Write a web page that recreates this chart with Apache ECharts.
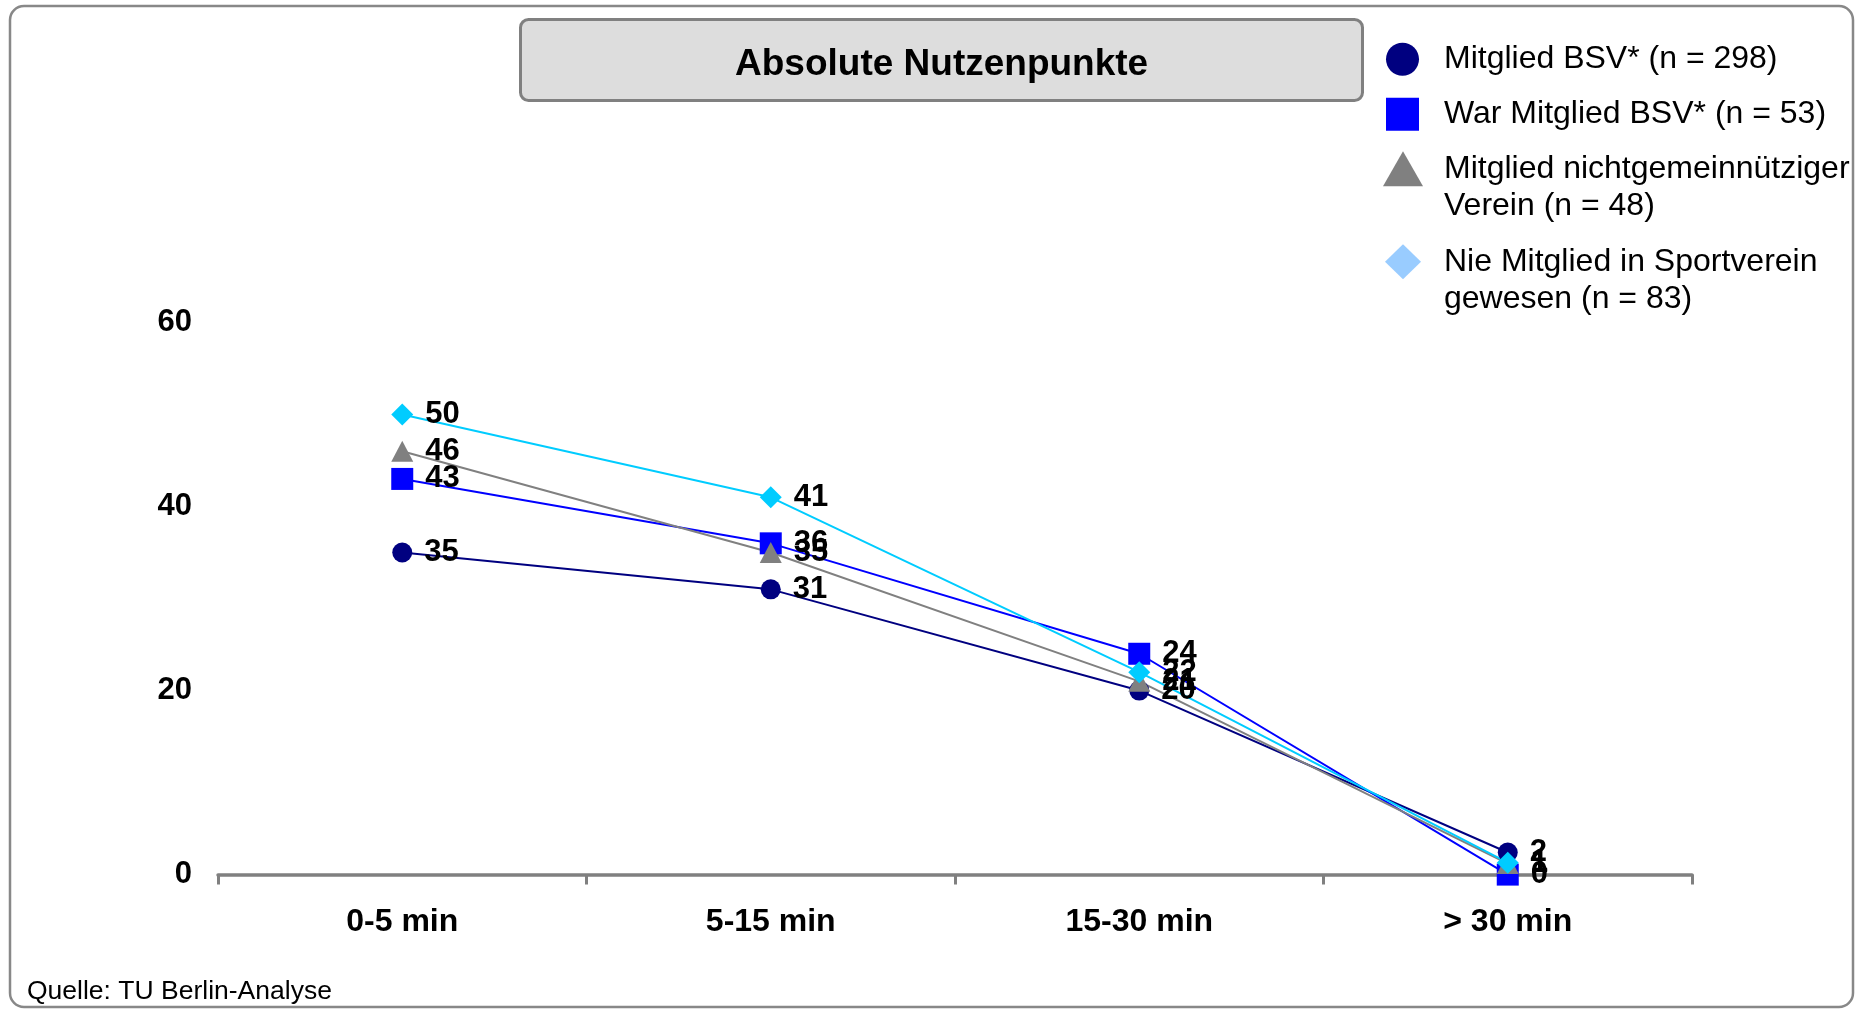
<!DOCTYPE html>
<html>
<head>
<meta charset="utf-8">
<script src="https://cdn.jsdelivr.net/npm/echarts@6/dist/echarts.min.js"></script>
<style>
html,body{margin:0;padding:0;background:#fff;}
#c{width:1858px;height:1009px;}
</style>
</head>
<body>
<div id="c"></div>
<script>
// ---- data ----
const categories = ['0-5 min', '5-15 min', '15-30 min', '> 30 min'];
const seriesNames = [
  'Mitglied BSV* (n = 298)',
  'War Mitglied BSV* (n = 53)',
  'Mitglied nichtgemeinnütziger\nVerein (n = 48)',
  'Nie Mitglied in Sportverein\ngewesen (n = 83)'
];
const bsvMembers = [35, 31, 20, 2.4];
const formerBsvMembers = [43, 36, 24, 0];
const nonProfitMembers = [46, 35, 21, 1.2];
const neverMembers = [50, 41, 22, 1.3];
const yTicks = [0, 20, 40, 60];
const titleText = 'Absolute Nutzenpunkte';
const sourceText = 'Quelle: TU Berlin-Analyse';

// ---- styling ----
const FONT = '"Liberation Sans", Arial, Helvetica, sans-serif';
const C_NAVY = '#000080', C_BLUE = '#0000FF', C_GREY = '#808080', C_CYAN = '#00CCFF', C_LIGHT = '#99CCFF';

function makeSeries(name, data, symbol, size, color) {
  return {
    name: name,
    type: 'line',
    data: data,
    symbol: symbol,
    symbolSize: size,
    clip: false,
    lineStyle: { color: color, width: 2 },
    itemStyle: { color: color, borderWidth: 0 },
    emphasis: { disabled: true },
    label: {
      show: true,
      position: 'right',
      distance: 12,
      fontFamily: FONT,
      fontSize: 31,
      fontWeight: 'bold',
      color: '#000',
      formatter: function (p) { return String(Math.round(p.value)); }
    }
  };
}

const legendText = { fontFamily: FONT, fontSize: 32, color: '#000', lineHeight: 37.5 };

const chart = echarts.init(document.getElementById('c'), null, { renderer: 'canvas' });
chart.setOption({
  animation: false,
  backgroundColor: '#ffffff',
  title: {
    text: titleText,
    left: 520,
    top: 20,
    padding: [27, 215, 17, 215],
    backgroundColor: '#DDDDDD',
    borderColor: '#808080',
    borderWidth: 3,
    borderRadius: 8,
    textStyle: { fontFamily: FONT, fontSize: 37, fontWeight: 'bold', color: '#000', lineHeight: 36 }
  },
  legend: [
    {
      orient: 'vertical', left: 1386, top: 40.5, padding: 0, itemGap: 17.5,
      itemWidth: 33, itemHeight: 33, selectedMode: false,
      textStyle: Object.assign({ padding: [0, 0, 0, 20] }, legendText),
      data: [
        { name: seriesNames[0], icon: 'circle', itemStyle: { color: C_NAVY, borderWidth: 0 } },
        { name: seriesNames[1], icon: 'rect', itemStyle: { color: C_BLUE, borderWidth: 0 } }
      ]
    },
    {
      orient: 'vertical', left: 1383, top: 112.5, padding: 0,
      itemWidth: 40, itemHeight: 35, selectedMode: false,
      textStyle: Object.assign({ padding: [0, 0, 0, 16] }, legendText),
      formatter: function (n) { return '\n' + n; },
      data: [
        { name: seriesNames[2], icon: 'triangle', itemStyle: { color: C_GREY, borderWidth: 0 } }
      ]
    },
    {
      orient: 'vertical', left: 1385, top: 205.5, padding: 0,
      itemWidth: 36, itemHeight: 35, selectedMode: false,
      textStyle: Object.assign({ padding: [0, 0, 0, 18] }, legendText),
      formatter: function (n) { return '\n' + n; },
      data: [
        { name: seriesNames[3], icon: 'diamond', itemStyle: { color: C_LIGHT, borderWidth: 0 } }
      ]
    }
  ],
  grid: { left: 218, right: 166, top: 322.5, bottom: 134.4, containLabel: false, outerBoundsMode: 'none' },
  xAxis: {
    type: 'category',
    data: categories,
    boundaryGap: true,
    axisLine: { show: true, lineStyle: { color: '#808080', width: 3.5 } },
    axisTick: { show: true, length: 10, lineStyle: { color: '#808080', width: 3 } },
    axisLabel: { fontFamily: FONT, fontSize: 32, fontWeight: 'bold', color: '#000', margin: 32 },
    splitLine: { show: false }
  },
  yAxis: {
    type: 'value',
    min: yTicks[0],
    max: yTicks[yTicks.length - 1],
    interval: yTicks[1] - yTicks[0],
    axisLine: { show: false },
    axisTick: { show: false },
    splitLine: { show: false },
    axisLabel: { fontFamily: FONT, fontSize: 31, fontWeight: 'bold', color: '#000', margin: 26, padding: [5, 0, 0, 0] }
  },
  series: [
    makeSeries(seriesNames[0], bsvMembers, 'circle', 20, C_NAVY),
    makeSeries(seriesNames[1], formerBsvMembers, 'rect', 22, C_BLUE),
    makeSeries(seriesNames[2], nonProfitMembers, 'triangle', [22, 21], C_GREY),
    makeSeries(seriesNames[3], neverMembers, 'diamond', 22, C_CYAN)
  ],
  graphic: [
    {
      type: 'rect', silent: true, z: -10,
      shape: { x: 10, y: 6, width: 1843, height: 1001, r: 14 },
      style: { fill: 'none', stroke: '#888888', lineWidth: 2.5 }
    },
    {
      type: 'text', left: 27, top: 978, silent: true,
      style: { text: sourceText, fontFamily: FONT, fontSize: 26.5, fill: '#000' }
    }
  ]
});
</script>
</body>
</html>
